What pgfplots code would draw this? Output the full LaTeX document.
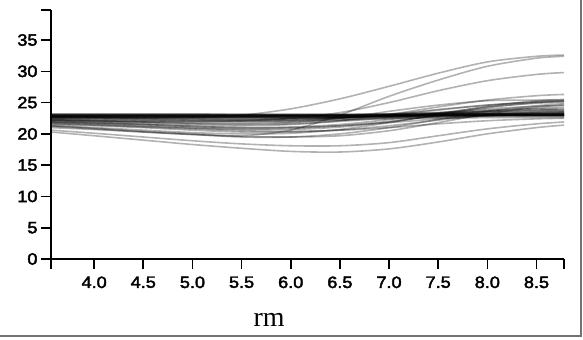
\documentclass[border=0pt]{standalone}
\usepackage{pgfplots}
\pgfplotsset{compat=1.18}
\usepackage{pgfplotstable}
\usepackage{fontspec}
\setmainfont{Liberation Serif}
\newfontfamily\tickfont[FakeStretch=1.1, FakeBold=2.5]{Liberation Sans}

\pgfplotstableread{
x     c1   c2   c3   c4   c5   c6   c7   c8   c9   c10  c11  c12  c13  c14  c15  c16  c17  c18  c19  c20  c21  c22  c23  c24  c25  c26  c27  c28  c29  c30  c31  c32  c33  c34  c35  c36  c37  c38  c39  c40  c41  c42
3.561 22.6 21.2 22.2 20.3 20.6 21.3 23.0 22.9 22.8 22.7 22.6 22.5 23.2 22.4 23.1 22.7 22.6 22.8 22.9 23.0 22.2 22.0 21.8 21.5 21.3 21.9 21.0 22.3 21.6 22.1 21.7 22.4 21.9 22.2 22.9 22.8 23.0 22.7 22.8 22.9 22.6 23.1
4.0   22.6 20.8 22.1 19.7 20.1 20.9 23.0 22.9 22.8 22.7 22.6 22.5 23.2 22.4 23.1 22.6 22.6 22.8 22.9 23.0 22.0 21.8 21.6 21.3 21.0 21.8 20.7 22.2 21.4 22.0 21.5 22.3 21.7 22.1 22.9 22.8 23.0 22.7 22.8 22.9 22.6 23.1
4.5   22.6 20.3 22.0 19.0 19.5 20.4 23.0 22.9 22.8 22.6 22.6 22.4 23.2 22.3 23.1 22.5 22.5 22.8 22.9 23.0 21.8 21.5 21.3 21.0 20.6 21.6 20.3 22.1 21.1 21.9 21.2 22.2 21.5 21.9 22.9 22.8 23.0 22.7 22.8 22.9 22.6 23.1
5.0   22.7 19.9 22.0 18.3 18.9 20.0 23.0 22.9 22.7 22.6 22.6 22.3 23.2 22.2 23.1 22.4 22.5 22.8 22.9 23.0 21.6 21.2 21.0 20.6 20.2 21.4 19.9 22.0 20.8 21.8 20.9 22.1 21.2 21.7 22.9 22.8 23.0 22.7 22.8 22.9 22.6 23.1
5.5   23.0 19.7 22.1 17.7 18.4 19.6 23.0 22.9 22.7 22.6 22.6 22.3 23.1 22.1 23.1 22.3 22.4 22.8 22.9 22.9 21.5 21.0 20.8 20.3 20.0 21.3 19.5 22.0 20.5 21.8 20.7 22.1 21.0 21.6 22.9 22.8 23.0 22.7 22.8 22.9 22.6 23.1
6.0   24.0 20.6 22.5 17.2 18.1 19.5 23.0 22.9 22.7 22.6 22.6 22.4 23.1 22.1 23.1 22.4 22.4 22.9 22.9 22.9 21.6 21.1 20.9 20.3 20.1 21.5 19.5 22.1 20.4 21.9 20.7 22.2 21.0 21.8 22.9 22.8 23.0 22.7 22.8 22.9 22.6 23.1
6.5   25.6 23.0 23.4 17.1 18.1 19.7 23.0 22.9 22.7 22.7 22.6 22.6 23.1 22.2 23.1 22.6 22.4 23.0 22.9 22.9 22.0 21.5 21.3 20.6 20.7 22.1 20.0 22.5 20.6 22.2 21.1 22.5 21.3 22.5 22.9 22.8 23.0 22.7 22.8 22.9 22.6 23.1
7.0   27.6 26.0 25.0 17.6 18.6 20.5 23.0 23.0 22.8 22.9 22.7 22.9 23.1 22.4 23.2 23.0 22.5 23.2 22.9 22.9 22.6 22.3 22.0 21.3 21.8 23.1 21.0 23.1 21.0 22.7 21.9 23.0 21.8 23.6 22.9 22.8 23.0 22.8 22.9 23.0 22.7 23.1
7.5   29.7 28.6 26.9 18.7 19.7 21.8 23.0 23.1 22.9 23.1 22.7 23.2 23.2 22.7 23.3 23.4 22.5 23.4 22.9 23.0 23.3 23.3 22.9 22.2 23.1 24.3 22.3 23.9 21.6 23.2 23.0 23.8 22.4 24.6 23.0 22.9 23.0 22.9 23.0 23.1 22.8 23.2
8.0   31.5 30.8 28.5 20.0 20.8 23.2 23.0 23.2 23.0 23.3 22.8 23.5 23.2 22.9 23.4 23.8 22.6 23.6 23.0 23.1 24.0 24.3 23.7 23.0 24.4 25.4 23.6 24.6 22.1 23.6 24.2 24.6 22.9 25.3 23.0 22.9 23.1 23.0 23.1 23.2 22.9 23.2
8.5   32.4 32.1 29.5 21.0 21.6 24.3 23.0 23.2 23.0 23.4 22.8 23.6 23.3 23.0 23.5 24.0 22.6 23.8 23.0 23.1 24.4 24.9 24.1 23.4 25.3 26.1 24.5 25.1 22.4 23.8 25.0 25.1 23.2 25.4 23.0 22.9 23.1 23.0 23.1 23.2 22.9 23.2
8.78  32.6 32.4 29.8 21.4 21.9 24.6 23.0 23.2 23.0 23.4 22.8 23.6 23.3 23.0 23.5 24.0 22.6 23.8 23.0 23.1 24.5 25.0 24.2 23.5 25.5 26.3 24.8 25.3 22.5 23.8 25.2 25.2 23.2 25.4 23.0 22.9 23.1 23.0 23.1 23.2 22.9 23.2
}\data

\begin{document}
\begin{tikzpicture}
\path[use as bounding box] (-51bp,-81bp) rectangle (532bp,259bp);
\draw[black!55, line width=1.5bp] (-51bp,-77bp) -- (530bp,-77bp) -- (530bp,259bp);
\begin{axis}[
  at={(0,0)}, anchor=south west,
  scale only axis, width=513bp, height=249bp,
  xmin=3.561, xmax=8.78, ymin=0, ymax=39.8,
  axis lines*=left,
  axis line style={-, line width=1.6bp, black},
  tick align=outside,
  major tick length=10bp,
  tick style={line width=1.6bp, black},
  xtick={4,4.5,5,5.5,6,6.5,7,7.5,8,8.5},
  ytick={0,5,10,15,20,25,30,35},
  extra x ticks={3.561,8.78}, extra x tick labels={},
  extra y ticks={39.8}, extra y tick labels={},
  extra tick style={tick style={line width=1.6bp, black}},
  xticklabel style={/pgf/number format/.cd, fixed, fixed zerofill, precision=1, /tikz/yshift=-4bp},
  /pgf/number format/assume math mode=true,
  ticklabel style={font=\tickfont\fontsize{16.5}{16.5}\selectfont},
  xlabel={rm},
  xlabel style={font=\fontsize{28}{28}\selectfont, at={(axis description cs:0.425,0)}, anchor=base, yshift=-67bp},
  clip=false,
]
\pgfplotsinvokeforeach{1,...,42}{
  \addplot[black, opacity=0.3, line width=1.6bp, smooth] table[x=x, y=c#1]{\data};
}
\end{axis}
\end{tikzpicture}
\end{document}
